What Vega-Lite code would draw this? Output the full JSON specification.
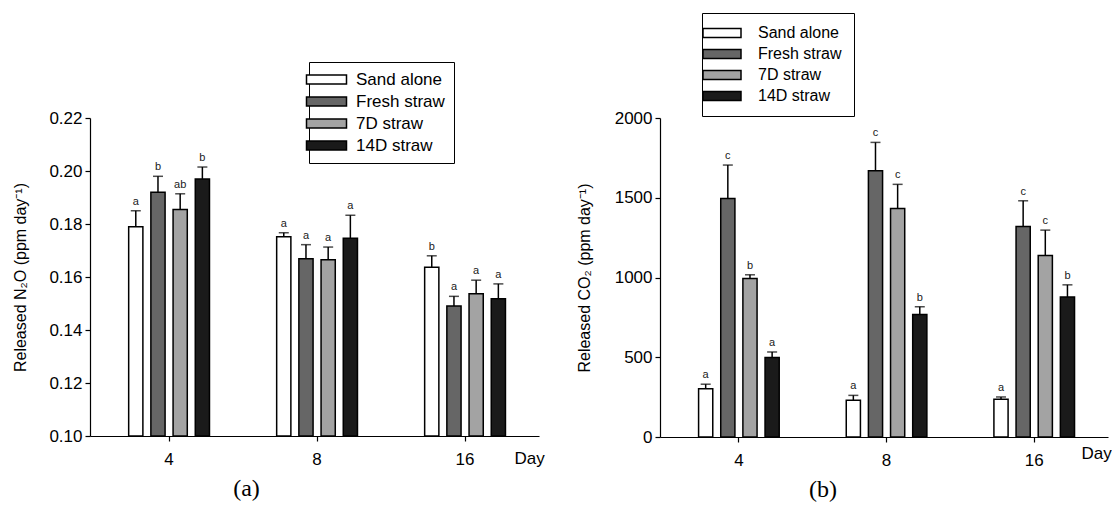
{
  "$schema": "https://vega.github.io/schema/vega-lite/v6.json",
  "background": "white",
  "padding": {"left": 12, "top": 12, "right": 0, "bottom": 0},
  "bounds": "flush",
  "spacing": 121,
  "config": {
    "view": {"stroke": null},
    "font": "Liberation Sans",
    "axis": {
      "grid": false,
      "domainColor": "black",
      "domainWidth": 1.2,
      "tickColor": "black",
      "tickWidth": 1.2,
      "tickSize": 5,
      "labelColor": "black",
      "titleColor": "black",
      "labelFont": "Liberation Sans",
      "titleFont": "Liberation Sans",
      "labelFontSize": 17,
      "titleFontSize": 16,
      "titleFontWeight": "normal"
    },
    "legend": {
      "labelFont": "Liberation Sans",
      "labelColor": "black"
    }
  },
  "resolve": {
    "scale": {"fill": "independent", "xOffset": "independent"},
    "legend": {"fill": "independent"}
  },
  "hconcat": [
    {
      "width": 449,
      "height": 318,
      "title": {"text": "(a)", "orient": "bottom", "font": "Liberation Serif", "fontSize": 24, "fontWeight": "normal", "color": "black", "dx": -68, "offset": 10},
      "data": {
        "values": [
          {"day": "4", "trt": "Sand alone", "v": 0.179, "up": 0.185, "lab": "a"},
          {"day": "4", "trt": "Fresh straw", "v": 0.192, "up": 0.198, "lab": "b"},
          {"day": "4", "trt": "7D straw", "v": 0.1855, "up": 0.1914, "lab": "ab"},
          {"day": "4", "trt": "14D straw", "v": 0.197, "up": 0.2015, "lab": "b"},
          {"day": "8", "trt": "Sand alone", "v": 0.1752, "up": 0.1767, "lab": "a"},
          {"day": "8", "trt": "Fresh straw", "v": 0.1669, "up": 0.1722, "lab": "a"},
          {"day": "8", "trt": "7D straw", "v": 0.1665, "up": 0.1713, "lab": "a"},
          {"day": "8", "trt": "14D straw", "v": 0.1746, "up": 0.1833, "lab": "a"},
          {"day": "16", "trt": "Sand alone", "v": 0.1637, "up": 0.168, "lab": "b"},
          {"day": "16", "trt": "Fresh straw", "v": 0.1491, "up": 0.1527, "lab": "a"},
          {"day": "16", "trt": "7D straw", "v": 0.1537, "up": 0.1588, "lab": "a"},
          {"day": "16", "trt": "14D straw", "v": 0.1518, "up": 0.1574, "lab": "a"}
        ]
      },
      "encoding": {
        "x": {
          "field": "day", "type": "ordinal", "sort": ["4", "8", "16"],
          "scale": {"paddingInner": 0.4, "paddingOuter": 0.217, "align": 0.54},
          "axis": {"title": "Day", "labelAngle": 0, "labelPadding": 10, "titleX": 424, "titleY": 22, "titleAlign": "left", "titleBaseline": "middle", "titleFontSize": 17}
        },
        "xOffset": {
          "field": "trt", "type": "nominal",
          "sort": ["Sand alone", "Fresh straw", "7D straw", "14D straw"],
          "scale": {"paddingInner": 0.36, "paddingOuter": 0.18}
        }
      },
      "layer": [
        {
          "mark": {"type": "bar", "stroke": "black", "strokeWidth": 1.5},
          "encoding": {
            "y": {
              "field": "v", "type": "quantitative",
              "scale": {"domain": [0.1, 0.22], "nice": false, "zero": false},
              "axis": {"title": "Released N₂O (ppm day⁻¹)", "values": [0.1, 0.12, 0.14, 0.16, 0.18, 0.2, 0.22], "format": ".2f", "labelPadding": 3, "titlePadding": 20}
            },
            "y2": {"datum": 0.1},
            "fill": {
              "field": "trt", "type": "nominal",
              "scale": {"domain": ["Sand alone", "Fresh straw", "7D straw", "14D straw"], "range": ["#ffffff", "#666666", "#a3a3a3", "#1a1a1a"]},
              "legend": {
                "title": null, "orient": "none", "legendX": 219, "legendY": -56,
                "symbolType": "M-4,-0.9H4V0.9H-4Z", "symbolSize": 100,
                "symbolStrokeColor": "black", "symbolStrokeWidth": 1.5,
                "labelFontSize": 17, "labelOffset": 21, "rowPadding": 4,
                "strokeColor": "black", "fillColor": "white", "padding": 9
              }
            }
          }
        },
        {
          "mark": {"type": "rule", "color": "black", "strokeWidth": 1.5},
          "encoding": {
            "y": {"field": "v", "type": "quantitative"},
            "y2": {"field": "up"}
          }
        },
        {
          "mark": {"type": "tick", "color": "black", "thickness": 1.5, "size": 10},
          "encoding": {
            "y": {"field": "up", "type": "quantitative"}
          }
        },
        {
          "mark": {"type": "text", "dy": -9, "fontSize": 11, "fill": "#1a1a1a", "font": "Liberation Sans"},
          "encoding": {
            "y": {"field": "up", "type": "quantitative"},
            "text": {"field": "lab"}
          }
        }
      ]
    },
    {
      "width": 448,
      "height": 319,
      "title": {"text": "(b)", "orient": "bottom", "font": "Liberation Serif", "fontSize": 24, "fontWeight": "normal", "color": "black", "dx": -61, "offset": 10},
      "data": {
        "values": [
          {"day": "4", "trt": "Sand alone", "v": 303, "up": 331, "lab": "a"},
          {"day": "4", "trt": "Fresh straw", "v": 1496, "up": 1705, "lab": "c"},
          {"day": "4", "trt": "7D straw", "v": 994, "up": 1017, "lab": "b"},
          {"day": "4", "trt": "14D straw", "v": 498, "up": 533, "lab": "a"},
          {"day": "8", "trt": "Sand alone", "v": 230, "up": 261, "lab": "a"},
          {"day": "8", "trt": "Fresh straw", "v": 1669, "up": 1847, "lab": "c"},
          {"day": "8", "trt": "7D straw", "v": 1433, "up": 1584, "lab": "c"},
          {"day": "8", "trt": "14D straw", "v": 768, "up": 816, "lab": "b"},
          {"day": "16", "trt": "Sand alone", "v": 236, "up": 251, "lab": "a"},
          {"day": "16", "trt": "Fresh straw", "v": 1320, "up": 1481, "lab": "c"},
          {"day": "16", "trt": "7D straw", "v": 1138, "up": 1297, "lab": "c"},
          {"day": "16", "trt": "14D straw", "v": 877, "up": 954, "lab": "b"}
        ]
      },
      "encoding": {
        "x": {
          "field": "day", "type": "ordinal", "sort": ["4", "8", "16"],
          "scale": {"paddingInner": 0.4, "paddingOuter": 0.217, "align": 0.54},
          "axis": {"title": "Day", "labelAngle": 0, "labelPadding": 10, "titleX": 421, "titleY": 16, "titleAlign": "left", "titleBaseline": "middle", "titleFontSize": 17}
        },
        "xOffset": {
          "field": "trt", "type": "nominal",
          "sort": ["Sand alone", "Fresh straw", "7D straw", "14D straw"],
          "scale": {"paddingInner": 0.36, "paddingOuter": 0.18}
        }
      },
      "layer": [
        {
          "mark": {"type": "bar", "stroke": "black", "strokeWidth": 1.5},
          "encoding": {
            "y": {
              "field": "v", "type": "quantitative",
              "scale": {"domain": [0, 2000], "nice": false},
              "axis": {"title": "Released CO₂ (ppm day⁻¹)", "values": [0, 500, 1000, 1500, 2000], "format": "d", "labelPadding": 3, "titlePadding": 22}
            },
            "y2": {"datum": 0},
            "fill": {
              "field": "trt", "type": "nominal",
              "scale": {"domain": ["Sand alone", "Fresh straw", "7D straw", "14D straw"], "range": ["#ffffff", "#666666", "#a3a3a3", "#1a1a1a"]},
              "legend": {
                "title": null, "orient": "none", "legendX": 42, "legendY": -105,
                "symbolType": "M-3.8,-0.9H3.8V0.9H-3.8Z", "symbolSize": 100,
                "symbolStrokeColor": "black", "symbolStrokeWidth": 1.5,
                "labelFontSize": 16, "labelOffset": 28, "rowPadding": 5,
                "strokeColor": "black", "fillColor": "white", "padding": 12
              }
            }
          }
        },
        {
          "mark": {"type": "rule", "color": "black", "strokeWidth": 1.5},
          "encoding": {
            "y": {"field": "v", "type": "quantitative"},
            "y2": {"field": "up"}
          }
        },
        {
          "mark": {"type": "tick", "color": "black", "thickness": 1.5, "size": 10},
          "encoding": {
            "y": {"field": "up", "type": "quantitative"}
          }
        },
        {
          "mark": {"type": "text", "dy": -9, "fontSize": 11, "fill": "#1a1a1a", "font": "Liberation Sans"},
          "encoding": {
            "y": {"field": "up", "type": "quantitative"},
            "text": {"field": "lab"}
          }
        }
      ]
    }
  ]
}
